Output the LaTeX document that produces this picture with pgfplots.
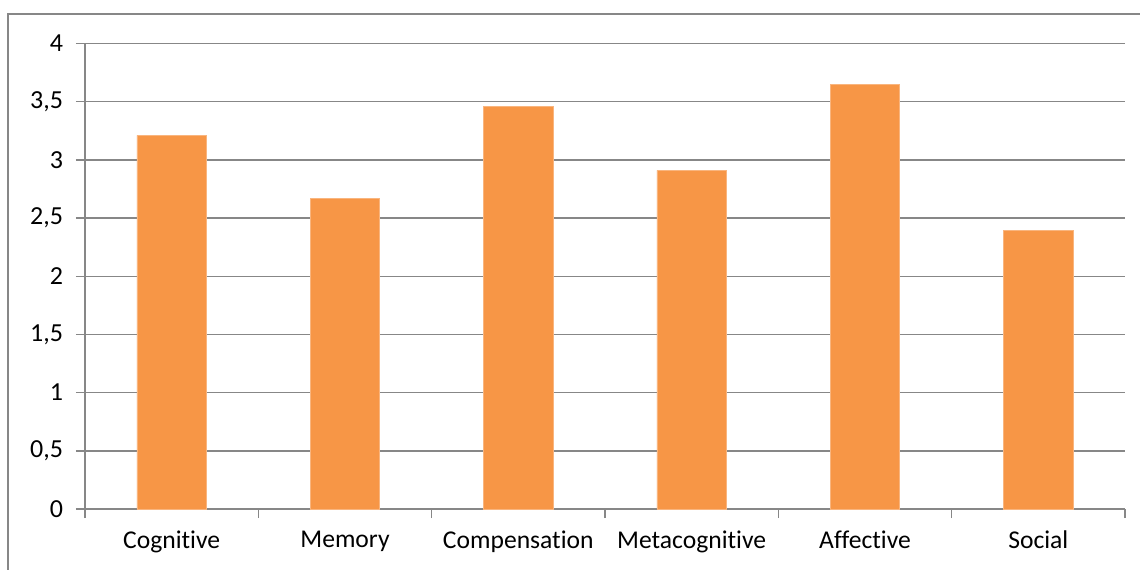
\documentclass[border=0pt]{standalone}
\usepackage{pgfplots}
\pgfplotsset{compat=1.18}
\usepackage{fontspec}
\setmainfont[Ligatures=NoCommon]{Carlito}
\definecolor{barorange}{HTML}{F79646}
\definecolor{gridgray}{HTML}{878787}
\begin{document}
\begin{tikzpicture}
\clip (-42.5pt,-30pt) rectangle (527.5pt,254.5pt);
\fill[white] (-42.5pt,-30pt) rectangle (527.5pt,254.5pt);
\draw[gridgray, line width=0.75pt] (-38.5pt,-40pt) -- (-38.5pt,247.5pt) -- (540pt,247.5pt);
\begin{axis}[
  at={(0,0)}, anchor=south west,
  scale only axis,
  width=520pt, height=232.75pt,
  xmin=0.5, xmax=6.5,
  ymin=0, ymax=4,
  axis x line*=bottom,
  axis y line*=left,
  axis line style={gridgray, line width=0.75pt, -},
  ymajorgrids,
  grid style={gridgray, line width=0.75pt},
  tick align=outside,
  major tick length=4.5pt,
  tick style={gridgray, line width=0.75pt},
  xtick={0.5,1.5,...,6.5},
  xticklabels={Cognitive,Memory,Compensation,Metacognitive,Affective,Social,{}},
  x tick label style={xshift=43.33pt, yshift=-3pt},
  ytick={0,0.5,...,4},
  /pgf/number format/assume math mode=true,
  /pgf/number format/use comma,
  yticklabel style={/pgf/number format/fixed, /pgf/number format/precision=1,
    font=\fontsize{13}{15}\selectfont, xshift=-3pt},
  tick label style={font=\fontsize{12.8}{14}\selectfont, black},
  ybar, bar width=0.4,
]
\addplot[fill=barorange, draw=barorange!70!white, line width=0.4pt] coordinates {
  (1,3.21) (2,2.67) (3,3.46) (4,2.91) (5,3.65) (6,2.39)
};
\end{axis}
\end{tikzpicture}
\end{document}
